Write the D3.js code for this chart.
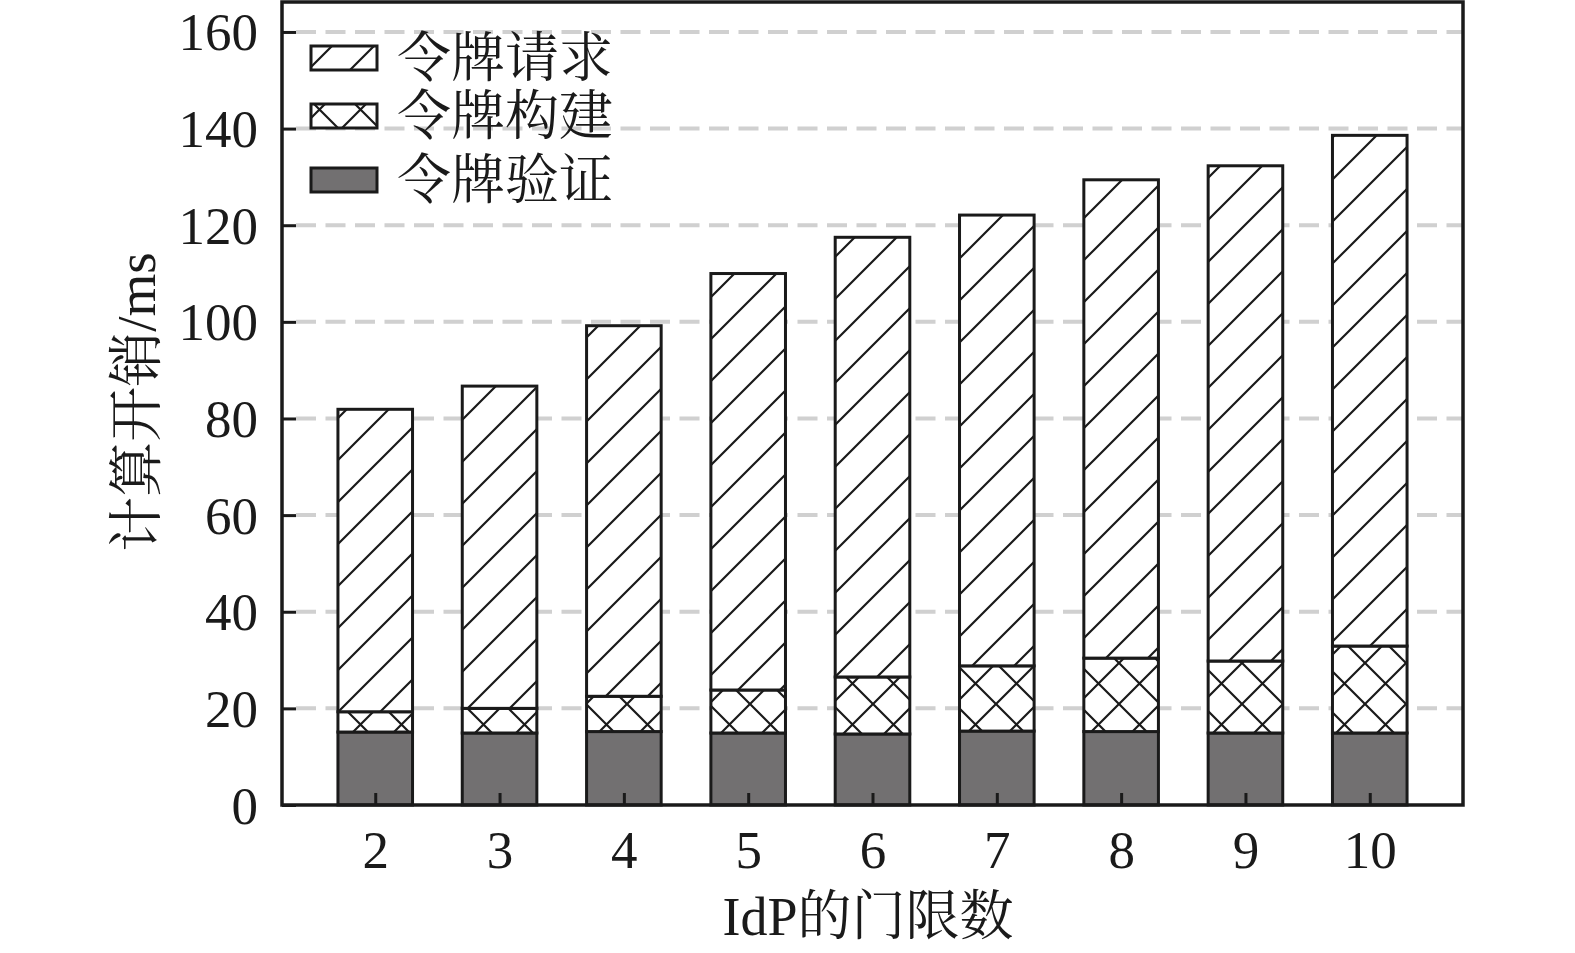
<!DOCTYPE html>
<html>
<head>
<meta charset="utf-8">
<script src="https://cdn.jsdelivr.net/npm/d3@7"></script>
<style>
  html, body { margin: 0; padding: 0; background: #fff; }
  svg { display: block; }
</style>
</head>
<body>
<svg id="chart" width="1575" height="953"></svg>
<script>
const categories = [2, 3, 4, 5, 6, 7, 8, 9, 10];
const verifyValues = [15.1, 14.9, 15.2, 14.9, 14.7, 15.3, 15.2, 14.9, 14.9];
const buildValues = [4.2, 5.1, 7.3, 8.9, 11.8, 13.5, 15.2, 14.9, 18.0];
const requestValues = [62.6, 66.7, 76.7, 86.2, 91.0, 93.3, 99.0, 102.5, 105.7];
const seriesNames = ["令牌请求", "令牌构建", "令牌验证"];
const yTicks = [0, 20, 40, 60, 80, 100, 120, 140, 160];

const svg = d3.select("#chart");
const W = 1575, H = 953;
const margin = { left: 282, right: W - 1463, top: 2, bottom: H - 805 };
const x = d3.scaleLinear().domain([1.25, 10.75]).range([margin.left, W - margin.right]);
const y = d3.scaleLinear().domain([0, 166.2]).range([H - margin.bottom, margin.top]);
const barW = x(2.6) - x(2);

const serif = "'Liberation Serif', 'Times New Roman', 'Noto Serif CJK SC', 'Noto Sans CJK SC', serif";

// patterns
const defs = svg.append("defs");
const p1 = defs.append("pattern").attr("id", "diag").attr("patternUnits", "userSpaceOnUse")
  .attr("width", 42).attr("height", 42);
p1.append("rect").attr("width", 42).attr("height", 42).attr("fill", "#fff");
p1.append("path").attr("d", "M-5,47 L47,-5 M-26,26 L26,-26 M16,68 L68,16")
  .attr("stroke", "#1a1a1a").attr("stroke-width", 2.2);
const p2 = defs.append("pattern").attr("id", "cross").attr("patternUnits", "userSpaceOnUse")
  .attr("width", 41).attr("height", 41).attr("x", 12).attr("y", 7);
p2.append("rect").attr("width", 41).attr("height", 41).attr("fill", "#fff");
p2.append("path").attr("d", "M-5,-5 L46,46 M46,-5 L-5,46")
  .attr("stroke", "#1a1a1a").attr("stroke-width", 2.2);

// gridlines
svg.append("g").selectAll("line").data(yTicks.filter(d => d > 0)).join("line")
  .attr("x1", margin.left + 14).attr("x2", W - margin.right)
  .attr("y1", d => y(d)).attr("y2", d => y(d))
  .attr("stroke", "#d0d0d0").attr("stroke-width", 4).attr("stroke-dasharray", "20,9.5");

// stacked bars
const rows = categories.map((c, i) => ({ c, v: verifyValues[i], b: buildValues[i], r: requestValues[i] }));
const stack = d3.stack().keys(["v", "b", "r"])(rows);
const fills = { v: "#727071", b: "url(#cross)", r: "url(#diag)" };
const gBars = svg.append("g");
stack.forEach(layer => {
  gBars.append("g").selectAll("rect").data(layer).join("rect")
    .attr("x", d => x(d.data.c) - barW / 2)
    .attr("width", barW)
    .attr("y", d => y(d[1]))
    .attr("height", d => y(d[0]) - y(d[1]))
    .attr("fill", fills[layer.key])
    .attr("stroke", "#1a1a1a").attr("stroke-width", 3);
});

// axes
const yAxis = d3.axisLeft(y).tickValues(yTicks).tickSize(-14).tickPadding(24).tickFormat(d3.format("d"));
const gy = svg.append("g").attr("transform", `translate(${margin.left},0)`).call(yAxis);
const xAxis = d3.axisBottom(x).tickValues(categories).tickSize(-12).tickPadding(25).tickFormat(d3.format("d"));
const gx = svg.append("g").attr("transform", `translate(0,${H - margin.bottom})`).call(xAxis);
[gx, gy].forEach(g => {
  g.select(".domain").remove();
  g.selectAll(".tick line").attr("stroke", "#1a1a1a").attr("stroke-width", 3);
  g.selectAll(".tick text").attr("font-family", serif).attr("font-size", 53).attr("fill", "#1a1a1a");
});
gx.selectAll(".tick text").attr("dy", "0.71em");
gy.selectAll(".tick text").attr("dy", "0.34em");

// frame
svg.append("rect").attr("x", margin.left).attr("y", margin.top)
  .attr("width", W - margin.right - margin.left).attr("height", H - margin.bottom - margin.top)
  .attr("fill", "none").attr("stroke", "#1a1a1a").attr("stroke-width", 3.5);

// axis titles
svg.append("text").attr("x", 868).attr("y", 935).attr("text-anchor", "middle")
  .attr("font-family", serif).attr("font-size", 54).attr("fill", "#1a1a1a")
  .text("IdP的门限数");
svg.append("text").attr("transform", "translate(135,402) rotate(-90)")
  .attr("text-anchor", "middle").attr("dy", "0.36em")
  .attr("font-family", serif).attr("font-size", 55).attr("fill", "#1a1a1a")
  .text("计算开销/ms");

// legend
const legendFills = ["url(#diag)", "url(#cross)", "#727071"];
const legendY = [58, 116, 180];
const lg = svg.append("g");
seriesNames.forEach((name, i) => {
  lg.append("rect").attr("x", 311).attr("y", legendY[i] - 12).attr("width", 66).attr("height", 24)
    .attr("fill", legendFills[i]).attr("stroke", "#1a1a1a").attr("stroke-width", 3);
  lg.append("text").attr("x", 397).attr("y", legendY[i]).attr("dy", "0.36em")
    .attr("font-family", serif).attr("font-size", 54).attr("fill", "#1a1a1a").text(name);
});
</script>
</body>
</html>
